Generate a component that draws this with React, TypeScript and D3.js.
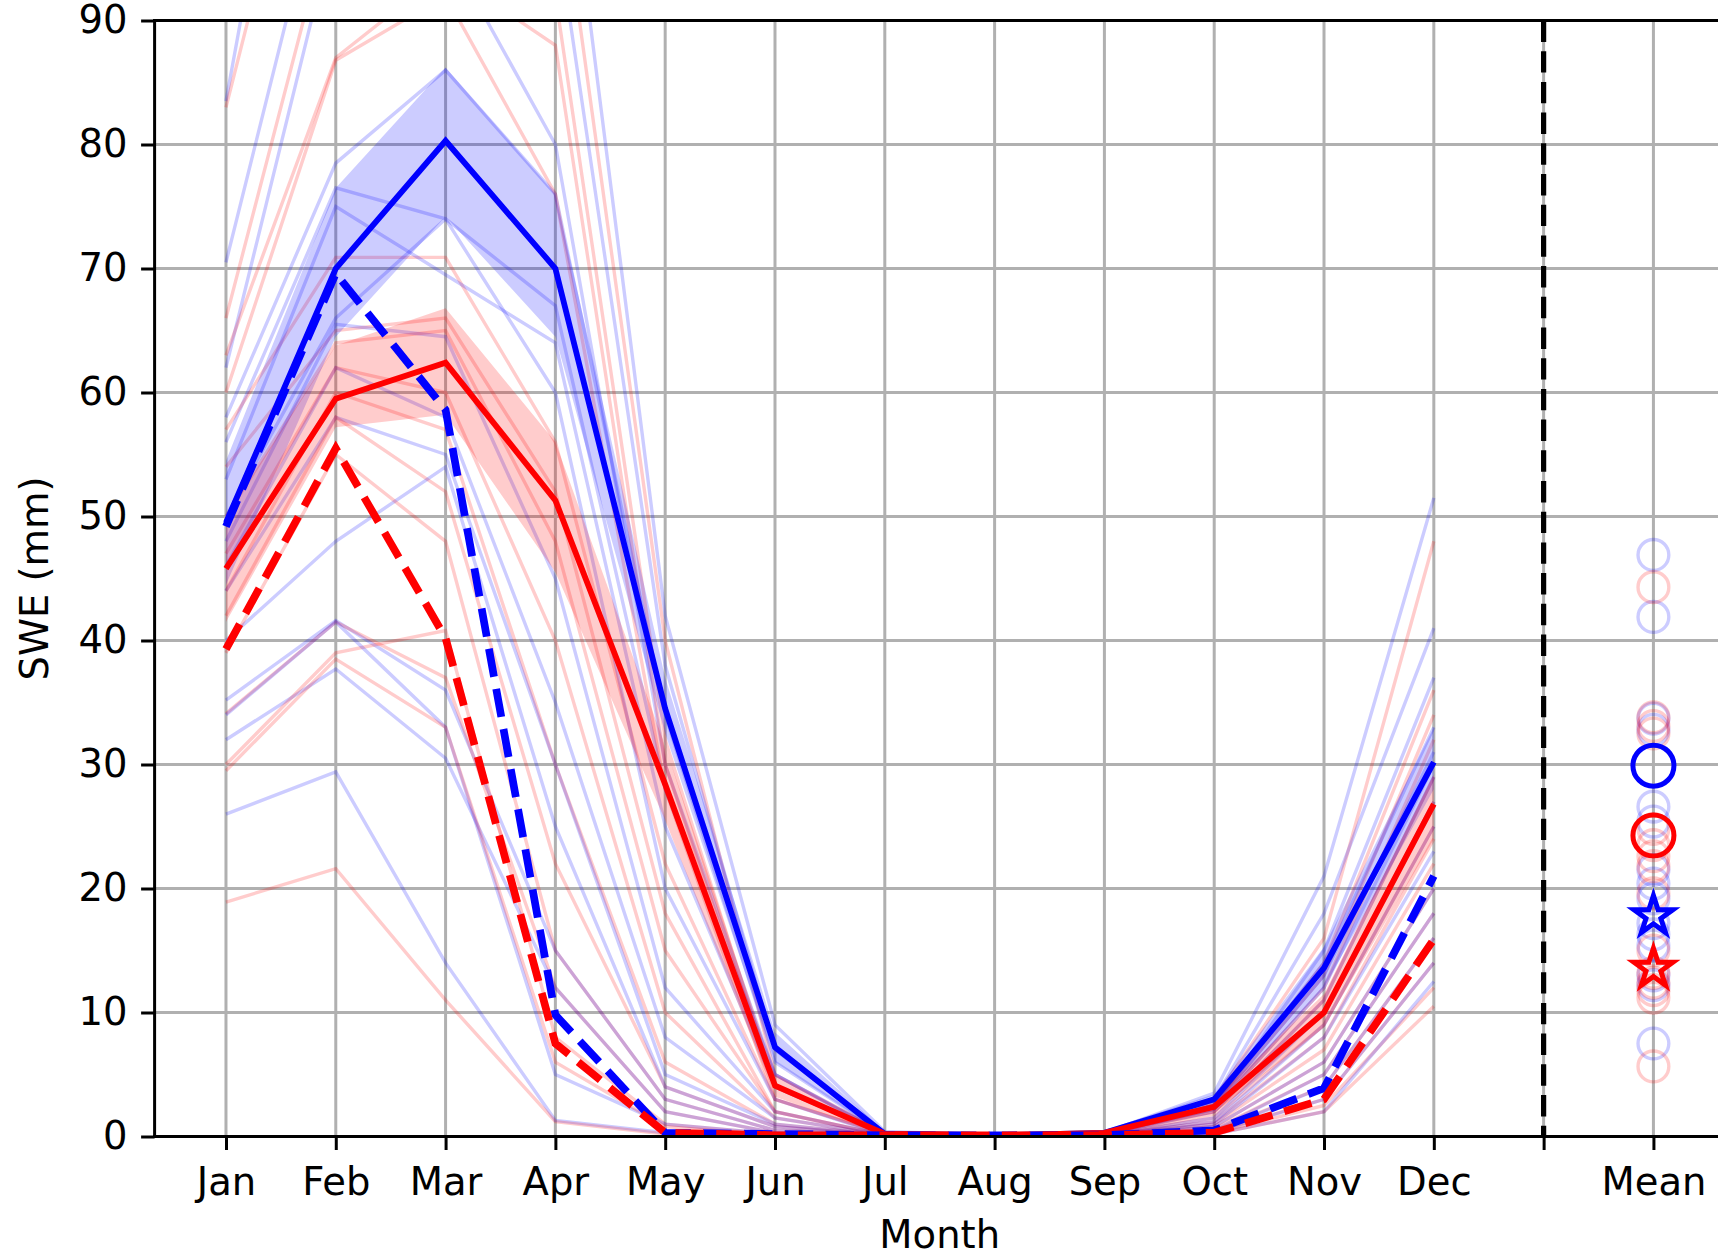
import * as d3 from "d3";
import { useEffect, useRef } from "react";

//month names and the extra "Mean" column
const months = ["Jan", "Feb", "Mar", "Apr", "May", "Jun", "Jul", "Aug", "Sep", "Oct", "Nov", "Dec"];
const meanLabel = "Mean";
const yTicks = [0, 10, 20, 30, 40, 50, 60, 70, 80, 90];

//thick lines
const blueMean = [49.5, 70, 80.3, 70, 34.5, 7.2, 0.2, 0.1, 0.3, 3.0, 13.6, 30.2];
const redMean = [45.8, 59.5, 62.4, 51.3, 28.4, 4.1, 0.2, 0.1, 0.3, 2.4, 10.0, 26.8];
const blueDashed = [49.2, 69.6, 58.6, 9.8, 0.3, 0.2, 0.1, 0.1, 0.1, 0.5, 3.9, 21.0];
const redDashed = [39.3, 55.5, 40.2, 7.5, 0.3, 0.1, 0.1, 0.1, 0.1, 0.3, 3.0, 15.9];

//shaded bands
const blueLow = [44.5, 64.5, 74.2, 64.5, 32.5, 6.0, 0.1, 0.05, 0.2, 2.3, 12.0, 28.0];
const blueHigh = [54.5, 76.5, 86.2, 76.0, 37.0, 8.4, 0.4, 0.2, 0.5, 3.4, 15.3, 33.0];
const redLow = [41.5, 57.2, 58.2, 45.5, 25.5, 3.2, 0.1, 0.05, 0.2, 1.9, 8.8, 24.0];
const redHigh = [50.0, 63.8, 66.8, 56.0, 31.5, 5.0, 0.4, 0.2, 0.5, 3.0, 11.5, 29.2];

//thin ensemble members, one row per member, Jan..Dec
const blueMembers = [
  [83.5, 132, 126, 112, 42, 9, 0.4, 0.1, 0.3, 3.5, 21, 51.5],
  [70.5, 106, 110, 98, 38, 7, 0.3, 0.1, 0.3, 3, 18, 41],
  [62, 98, 96, 80, 30, 5, 0.2, 0.1, 0.2, 2.5, 15, 37],
  [58, 78.5, 86, 76, 34, 6, 0.2, 0.1, 0.2, 2.8, 14, 33],
  [56, 76.5, 74, 67, 28, 5, 0.2, 0.1, 0.2, 2.5, 13, 31],
  [53, 75, 69.5, 64, 25, 4, 0.2, 0.1, 0.2, 2.2, 12, 30],
  [50, 66, 74, 60, 20, 3, 0.1, 0.1, 0.2, 2, 11, 29],
  [48, 65.5, 64.5, 45, 12, 2, 0.1, 0.1, 0.1, 1.5, 10, 27],
  [46, 62, 58, 35, 8, 1.5, 0.1, 0.1, 0.1, 1.2, 9, 25],
  [44, 58, 55, 30, 5, 1, 0.1, 0.1, 0.1, 1, 8, 23],
  [40, 48, 54, 25, 4, 0.8, 0.1, 0.1, 0.1, 0.8, 6, 20],
  [35.2, 41.6, 36, 15, 3, 0.5, 0.1, 0.1, 0.1, 0.5, 5, 18],
  [32, 37.7, 30.5, 12, 2, 0.3, 0.1, 0.1, 0.1, 0.4, 4, 16],
  [34, 41.5, 33, 5, 1, 0.2, 0, 0, 0.1, 0.3, 3, 14],
  [26, 29.4, 14, 1.3, 0.3, 0.1, 0, 0, 0, 0.2, 2, 12.5],
];
const redMembers = [
  [83, 118, 120, 104, 40, 5, 0.3, 0.1, 0.3, 3, 16, 48],
  [66, 100, 98, 92, 32, 4, 0.2, 0.1, 0.2, 2.5, 14, 36],
  [63, 87, 94, 88, 30, 4, 0.2, 0.1, 0.2, 2.5, 13, 34],
  [60, 86.8, 92, 76, 28, 3, 0.2, 0.1, 0.2, 2.2, 12, 32],
  [57, 70.9, 70.9, 56, 22, 3, 0.2, 0.1, 0.2, 2, 11, 29],
  [54, 65, 66, 52, 18, 2, 0.1, 0.1, 0.1, 1.8, 10, 27],
  [50, 64, 65, 48, 15, 2, 0.1, 0.1, 0.1, 1.5, 9, 25],
  [47, 62, 60, 40, 10, 1.5, 0.1, 0.1, 0.1, 1.2, 8, 24],
  [44, 60, 57, 30, 6, 1, 0.1, 0.1, 0.1, 1, 7, 22],
  [42, 58, 52, 22, 4, 0.8, 0.1, 0.1, 0.1, 0.8, 6, 20],
  [39, 55, 48, 15, 3, 0.5, 0.1, 0.1, 0.1, 0.6, 5, 18],
  [34.1, 41.5, 37, 12, 2, 0.3, 0, 0, 0.1, 0.5, 4, 16],
  [30, 39, 40.8, 8, 1, 0.2, 0, 0, 0.1, 0.4, 3, 14],
  [29.5, 38.5, 33, 6, 0.8, 0.1, 0, 0, 0, 0.3, 2.5, 12],
  [18.9, 21.6, 11, 1.2, 0.2, 0.1, 0, 0, 0, 0.2, 2, 10.5],
];

//annual means of each member (faint circles in the Mean column)
const blueMemberMeans = [46.9, 41.9, 33.7, 32.8, 26.6, 25.4, 21.5, 20.4, 19.2, 17.2, 16.3, 15.4, 13.0, 12.2, 7.5];
const redMemberMeans = [44.3, 33.8, 33.1, 32.5, 24.8, 23.5, 22.6, 21.8, 19.6, 15.0, 13.2, 12.4, 11.8, 11.2, 5.65];

const W = 1718;
const H = 1256;
const FONT = "'DejaVu Sans', sans-serif";

export default function App() {
  const ref = useRef<SVGSVGElement>(null);

  useEffect(() => {
    const svg = d3.select(ref.current);
    svg.selectAll("*").remove();

    //scales, x domain has matplotlib's 5% margins around 1..14
    const x = d3.scaleLinear().domain([0.35, 14.65]).range([154.6, 1724.8]);
    const y = d3.scaleLinear().domain([0, 90]).range([1136.5, 20.5]);
    const [left, right] = x.range();
    const [bottom, top] = y.range();

    svg.append("defs").append("clipPath").attr("id", "plot-clip")
      .append("rect")
      .attr("x", left).attr("y", top)
      .attr("width", right - left).attr("height", bottom - top);

    //grid
    const grid = svg.append("g");
    grid.selectAll("line.gx")
      .data(d3.range(1, 15))
      .enter().append("line")
      .attr("x1", d => x(d)).attr("x2", d => x(d))
      .attr("y1", top).attr("y2", bottom)
      .attr("stroke", "#b0b0b0").attr("stroke-width", 3);
    grid.selectAll("line.gy")
      .data(yTicks)
      .enter().append("line")
      .attr("x1", left).attr("x2", right)
      .attr("y1", d => y(d)).attr("y2", d => y(d))
      .attr("stroke", "#b0b0b0").attr("stroke-width", 3);

    const plot = svg.append("g").attr("clip-path", "url(#plot-clip)");

    const line = d3.line<number>()
      .x((d, i) => x(i + 1))
      .y(d => y(d));

    //members, blue and red in turn
    d3.range(blueMembers.length).forEach(i => {
      plot.append("path").datum(blueMembers[i])
        .attr("fill", "none").attr("stroke", "#0000ff")
        .attr("stroke-opacity", 0.2).attr("stroke-width", 3.4)
        .attr("d", line);
      plot.append("path").datum(redMembers[i])
        .attr("fill", "none").attr("stroke", "#ff0000")
        .attr("stroke-opacity", 0.2).attr("stroke-width", 3.4)
        .attr("d", line);
    });

    //bands
    const band = (lo: number[], hi: number[], color: string) => {
      const area = d3.area<number>()
        .x((d, i) => x(i + 1))
        .y0((d, i) => y(lo[i]))
        .y1(d => y(d));
      plot.append("path").datum(hi)
        .attr("fill", color).attr("fill-opacity", 0.2)
        .attr("d", area);
    };
    band(blueLow, blueHigh, "#0000ff");
    band(redLow, redHigh, "#ff0000");

    //thick lines, the dashed ones are a little heavier
    const thick = (data: number[], color: string, dashed: boolean) => {
      plot.append("path").datum(data)
        .attr("fill", "none").attr("stroke", color)
        .attr("stroke-width", dashed ? 7.7 : 5.8)
        .attr("stroke-dasharray", dashed ? "28.5 12.3" : null)
        .attr("d", line);
    };
    thick(blueMean, "#0000ff", false);
    thick(redMean, "#ff0000", false);
    thick(blueDashed, "#0000ff", true);
    thick(redDashed, "#ff0000", true);

    //separator before the Mean column
    plot.append("line")
      .attr("x1", x(13)).attr("x2", x(13))
      .attr("y1", top).attr("y2", bottom)
      .attr("stroke", "#000").attr("stroke-width", 5.2)
      .attr("stroke-dasharray", "21.4 9.3");

    //member means
    const faint = (vals: number[], color: string) => {
      plot.selectAll(null)
        .data(vals)
        .enter().append("circle")
        .attr("cx", x(14)).attr("cy", d => y(d)).attr("r", 15.4)
        .attr("fill", "none").attr("stroke", color)
        .attr("stroke-opacity", 0.2).attr("stroke-width", 3.4);
    };
    faint(blueMemberMeans, "#0000ff");
    faint(redMemberMeans, "#ff0000");

    //means of the thick lines
    const circles = [
      { v: d3.mean(blueMean) as number, c: "#0000ff" },
      { v: d3.mean(redMean) as number, c: "#ff0000" },
    ];
    plot.selectAll(null).data(circles)
      .enter().append("circle")
      .attr("cx", x(14)).attr("cy", d => y(d.v)).attr("r", 20.5)
      .attr("fill", "none").attr("stroke", d => d.c).attr("stroke-width", 5);

    const stars = [
      { v: d3.mean(blueDashed) as number, c: "#0000ff" },
      { v: d3.mean(redDashed) as number, c: "#ff0000" },
    ];
    const star = d3.symbol().type(d3.symbolStar).size(470);
    plot.selectAll(null).data(stars)
      .enter().append("path")
      .attr("transform", d => `translate(${x(14)},${y(d.v)})`)
      .attr("d", star)
      .attr("fill", "none").attr("stroke", d => d.c).attr("stroke-width", 5);

    //axes
    const xAxis = d3.axisBottom(x)
      .tickValues(d3.range(1, 15))
      .tickFormat(d => {
        const i = +d;
        if (i <= 12) return months[i - 1];
        return i === 14 ? meanLabel : "";
      })
      .tickSize(13.5).tickPadding(13.5);
    const gx = svg.append("g").attr("transform", `translate(0,${bottom})`).call(xAxis);
    gx.select(".domain").remove();
    gx.selectAll("line").attr("stroke", "#000").attr("stroke-width", 3);
    gx.selectAll("text")
      .attr("y", 58.5).attr("dy", 0)
      .attr("fill", "#000")
      .style("font-family", FONT).style("font-size", "38.5px");

    const yAxis = d3.axisLeft(y).tickValues(yTicks).tickSize(13.5).tickPadding(13.5);
    const gy = svg.append("g").attr("transform", `translate(${left},0)`).call(yAxis);
    gy.select(".domain").remove();
    gy.selectAll("line").attr("stroke", "#000").attr("stroke-width", 3);
    gy.selectAll("text")
      .attr("fill", "#000")
      .style("font-family", FONT).style("font-size", "38.5px");

    //spines: left, top, bottom (right one falls outside the picture)
    const spines = svg.append("g").attr("stroke", "#000").attr("stroke-width", 3).attr("stroke-linecap", "square");
    spines.append("line").attr("x1", left).attr("x2", left).attr("y1", top).attr("y2", bottom);
    spines.append("line").attr("x1", left).attr("x2", right).attr("y1", top).attr("y2", top);
    spines.append("line").attr("x1", left).attr("x2", right).attr("y1", bottom).attr("y2", bottom);

    //axis titles
    svg.append("text")
      .attr("x", (left + right) / 2).attr("y", 1248)
      .attr("text-anchor", "middle")
      .style("font-family", FONT).style("font-size", "38.5px")
      .text("Month");
    svg.append("text")
      .attr("transform", `translate(48,${(top + bottom) / 2}) rotate(-90)`)
      .attr("text-anchor", "middle")
      .style("font-family", FONT).style("font-size", "38.5px")
      .text("SWE (mm)");
  }, []);

  return (
    <svg
      ref={ref}
      width={W}
      height={H}
      style={{ position: "absolute", left: 0, top: 0, background: "#fff" }}
    />
  );
}
